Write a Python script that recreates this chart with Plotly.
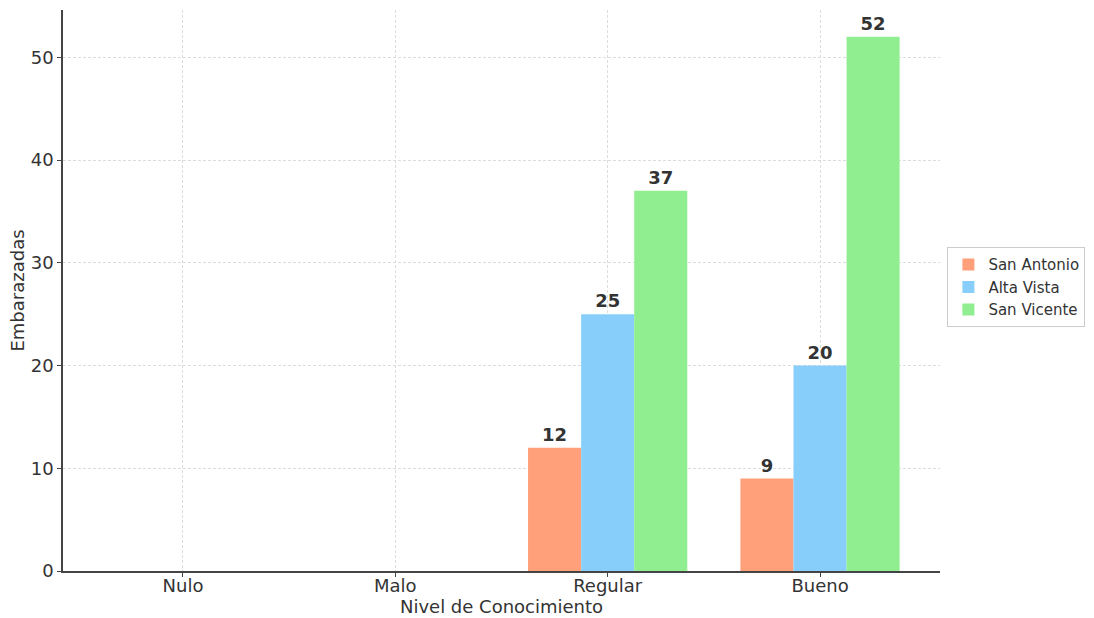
import plotly.graph_objects as go

niveles = ["Nulo", "Malo", "Regular", "Bueno"]
san_antonio = [0, 0, 12, 9]
alta_vista = [0, 0, 25, 20]
san_vicente = [0, 0, 37, 52]

series = [
    ("San Antonio", san_antonio, "#FFA07A"),
    ("Alta Vista", alta_vista, "#87CEFA"),
    ("San Vicente", san_vicente, "#90EE90"),
]

fig = go.Figure()
for nombre, valores, color in series:
    fig.add_trace(go.Bar(
        x=niveles,
        y=valores,
        name=nombre,
        marker=dict(color=color, line=dict(width=0)),
        text=[str(v) if v else "" for v in valores],
        textposition="outside",
        textfont=dict(family="DejaVu Sans", size=18, color="#333333", weight="bold"),
        cliponaxis=False,
    ))

axis_common = dict(
    showline=True,
    linecolor="#444444",
    linewidth=1.5,
    ticks="outside",
    ticklen=4,
    tickcolor="#444444",
    tickfont=dict(family="DejaVu Sans", size=18, color="#333333"),
    showgrid=True,
    gridcolor="#dcdcdc",
    griddash="3px,2px",
    gridwidth=1,
    zeroline=False,
    mirror=False,
    automargin=False,
)

fig.update_layout(
    width=1094,
    height=618,
    margin=dict(l=63, r=154, t=10, b=47),
    paper_bgcolor="white",
    plot_bgcolor="white",
    barmode="group",
    bargap=0.25,
    bargroupgap=0,
    font=dict(family="DejaVu Sans", color="#333333"),
    xaxis=dict(
        **axis_common,
        range=[-0.565, 3.565],
        ticklabelstandoff=-6,
        title=dict(text="Nivel de Conocimiento", font=dict(size=18), standoff=2),
    ),
    yaxis=dict(
        **axis_common,
        range=[0, 54.6],
        tickvals=[0, 10, 20, 30, 40, 50],
        title=dict(text="Embarazadas", font=dict(size=18), standoff=1),
    ),
    legend=dict(
        xref="container",
        yref="container",
        x=0.866,
        xanchor="left",
        y=0.535,
        yanchor="middle",
        bordercolor="#cccccc",
        borderwidth=1,
        bgcolor="white",
        font=dict(family="DejaVu Sans", size=15, color="#333333"),
    ),
    showlegend=True,
)

fig.write_html("out.html")
